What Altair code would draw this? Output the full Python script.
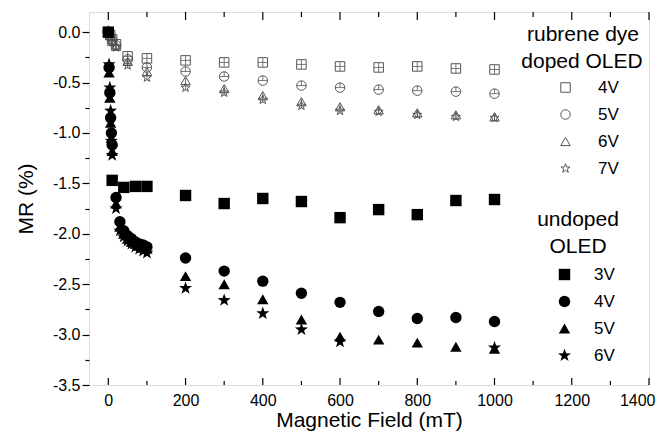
import altair as alt
import pandas as pd

# ---------------- data ----------------
doped_field = [0, 5, 10, 20, 50, 100, 200, 300, 400, 500, 600, 700, 800, 900, 1000]
doped_4V = [0, -0.03, -0.07, -0.12, -0.24, -0.26, -0.28, -0.30, -0.30, -0.32, -0.34, -0.35, -0.34, -0.36, -0.37]
doped_5V = [0, -0.04, -0.08, -0.13, -0.27, -0.35, -0.39, -0.44, -0.48, -0.53, -0.55, -0.57, -0.58, -0.59, -0.61]
doped_6V = [0, -0.03, -0.09, -0.14, -0.29, -0.39, -0.48, -0.56, -0.63, -0.69, -0.74, -0.77, -0.80, -0.82, -0.84]
doped_7V = [0, -0.05, -0.10, -0.15, -0.33, -0.45, -0.55, -0.60, -0.67, -0.73, -0.78, -0.79, -0.82, -0.84, -0.85]

undoped_3V_field = [0, 10, 40, 70, 100, 200, 300, 400, 500, 600, 700, 800, 900, 1000]
undoped_3V = [0, -1.47, -1.54, -1.53, -1.53, -1.62, -1.70, -1.65, -1.68, -1.84, -1.76, -1.81, -1.67, -1.66]

undoped_field = [0, 2, 4, 6, 8, 10, 20, 30, 40, 50, 60, 70, 80, 90, 100,
                 200, 300, 400, 500, 600, 700, 800, 900, 1000]
undoped_4V = [0, -0.35, -0.60, -0.85, -1.00, -1.12, -1.64, -1.88, -1.97, -2.02, -2.05, -2.08, -2.10, -2.11, -2.13,
              -2.24, -2.37, -2.47, -2.59, -2.68, -2.77, -2.84, -2.83, -2.87]
undoped_5V = [0, -0.40, -0.65, -0.90, -1.05, -1.18, -1.70, -1.93, -2.00, -2.05, -2.08, -2.10, -2.12, -2.14, -2.15,
              -2.42, -2.50, -2.65, -2.85, -3.02, -3.05, -3.08, -3.12, -3.14]
undoped_6V_field = [0, 2, 4, 6, 8, 10, 20, 30, 40, 50, 60, 70, 80, 90, 100, 200, 300, 400, 500, 600, 1000]
undoped_6V = [0, -0.32, -0.55, -0.78, -1.08, -1.22, -1.75, -1.97, -2.03, -2.07, -2.10, -2.13, -2.15, -2.17, -2.19,
              -2.54, -2.66, -2.79, -2.95, -3.07, -3.13]

doped_labels = ["4V", "5V", "6V", "7V"]
undoped_labels = ["3V", "4V", "5V", "6V"]
doped_title = ["rubrene dye", "doped OLED"]
undoped_title = ["undoped", "OLED"]

x_major = [0, 200, 400, 600, 800, 1000, 1200, 1400]
x_minor = [100, 300, 500, 700, 900, 1100, 1300]
y_ticks = [-3.5 + 0.25 * k for k in range(15)]

# ---------------- tables ----------------
rows = []
for lab, vals in zip(doped_labels, [doped_4V, doped_5V, doped_6V, doped_7V]):
    for f, v in zip(doped_field, vals):
        rows.append({"field": f, "mr": v, "V": lab})
doped_df = pd.DataFrame(rows)

rows = []
for lab, fs, vals in [("3V", undoped_3V_field, undoped_3V), ("4V", undoped_field, undoped_4V),
                      ("5V", undoped_field, undoped_5V), ("6V", undoped_6V_field, undoped_6V)]:
    for f, v in zip(fs, vals):
        rows.append({"field": f, "mr": v, "V": lab})
undoped_df = pd.DataFrame(rows)

major_df = pd.DataFrame({"field": x_major})
minor_df = pd.DataFrame({"field": x_minor})

FONT = "Liberation Sans"
STAR = ("M0,-1.2L0.282,-0.389L1.141,-0.371L0.456,0.149L0.706,0.971L0,0.48"
        "L-0.706,0.971L-0.456,0.149L-1.141,-0.371L-0.282,-0.389Z")
STAR_S = ("M0,-1L0.235,-0.324L0.951,-0.309L0.380,0.124L0.588,0.809L0,0.4"
          "L-0.588,0.809L-0.380,0.124L-0.951,-0.309L-0.235,-0.324Z")
GRAY = "#555555"

W, H = 560, 373

xscale = alt.Scale(domain=[-50, 1400], nice=False, zero=False)
yscale = alt.Scale(domain=[-3.5, 0.2], nice=False, zero=False)

xaxis = alt.Axis(values=x_major, format="d", ticks=False, domain=False, grid=False,
                 labelFontSize=16, labelFont=FONT, labelColor="black", labelPadding=7,
                 labelFlush=True, labelFlushOffset=6, labelOverlap=False,
                 title="Magnetic Field (mT)", titleFontSize=21, titleFont=FONT,
                 titleFontWeight="normal", titleColor="black", titlePadding=1)
yaxis = alt.Axis(values=y_ticks, domain=False, grid=False,
                 labelExpr="datum.value % 0.5 == 0 ? replace(format(datum.value, '.1f'), '\u2212', '-') : ''",
                 tickSize={"condition": {"test": "datum.value % 0.5 == 0", "value": 7}, "value": 4},
                 tickColor="black", tickWidth=1.2,
                 labelFontSize=16, labelFont=FONT, labelColor="black", labelPadding=2,
                 labelFlush=False, labelOverlap=False,
                 title="MR (%)", titleFontSize=21, titleFont=FONT,
                 titleFontWeight="normal", titleColor="black", titlePadding=16)


def X():
    return alt.X("field:Q", scale=xscale, axis=xaxis)


def Y():
    return alt.Y("mr:Q", scale=yscale, axis=yaxis)


doped_legend = alt.Legend(
    title=None, orient="none", legendX=468, legendY=67, padding=0,
    labelFontSize=17, labelFont=FONT, labelColor="black", labelOffset=24,
    rowPadding=9, symbolSize=90, symbolStrokeWidth=1,
    symbolStrokeColor=GRAY, symbolFillColor="white")

undoped_legend = alt.Legend(
    title=None, orient="none", legendX=467, legendY=254, padding=0,
    labelFontSize=17, labelFont=FONT, labelColor="black", labelOffset=21,
    rowPadding=9, symbolSize=130, symbolStrokeWidth=0,
    symbolStrokeColor="black", symbolFillColor="black")

doped = alt.Chart(doped_df).mark_point(filled=False, stroke=GRAY, strokeWidth=1, size=90, opacity=1).encode(
    x=X(), y=Y(),
    shape=alt.Shape("V:N", scale=alt.Scale(domain=doped_labels,
                                           range=["square", "circle", "triangle-up", STAR_S]),
                    legend=doped_legend),
)

doped_cross = alt.Chart(doped_df).mark_point(filled=False, stroke=GRAY, strokeWidth=0.8, size=90, opacity=1).encode(
    x=X(), y=Y(),
    shape=alt.Shape("V:N", scale=alt.Scale(domain=doped_labels,
                                           range=["M0,-1V1M-1,0H1", "M-1,0H1M0,-1V0",
                                                  "M0,-0.6V1", "M0,-0.5V0.6"]),
                    legend=None),
)

undoped = alt.Chart(undoped_df).mark_point(filled=True, fill="black", stroke="black", strokeWidth=0,
                                            size=130, opacity=1).encode(
    x=X(), y=Y(),
    shape=alt.Shape("V:N", scale=alt.Scale(domain=undoped_labels,
                                           range=["square", "circle", "triangle-up", STAR]),
                    legend=undoped_legend),
)

bot_major = alt.Chart(major_df).mark_rule(color="black", strokeWidth=1.2).encode(
    x=X(), y=alt.value(H), y2=alt.value(H - 7))
bot_minor = alt.Chart(minor_df).mark_rule(color="black", strokeWidth=1.2).encode(
    x=X(), y=alt.value(H), y2=alt.value(H - 4))
top_major = alt.Chart(major_df).mark_rule(color="black", strokeWidth=1.2).encode(
    x=X(), y=alt.value(0), y2=alt.value(8))
top_minor = alt.Chart(minor_df).mark_rule(color="black", strokeWidth=1.2).encode(
    x=X(), y=alt.value(0), y2=alt.value(5))


def title_text(text, x, y):
    return alt.Chart(pd.DataFrame({"t": [text]})).mark_text(
        font=FONT, fontSize=21, color="black", align="center", baseline="middle").encode(
        text="t:N", x=alt.value(x), y=alt.value(y))


t1 = title_text(doped_title[0], 494, 23)
t2 = title_text(doped_title[1], 493, 50)
t3 = title_text(undoped_title[0], 489, 208)
t4 = title_text(undoped_title[1], 489, 235)

chart = alt.layer(
    bot_major, bot_minor, top_major, top_minor, doped, doped_cross, undoped, t1, t2, t3, t4
).resolve_scale(shape="independent").resolve_legend(shape="independent").properties(
    width=W, height=H,
    autosize=alt.AutoSizeParams(type="none"),
    padding={"left": 81, "top": 4, "right": 7, "bottom": 50},
).configure_view(stroke="black", strokeWidth=1.5).configure(background="white")

chart.save("out.html", embed_options={"renderer": "svg", "actions": False})
